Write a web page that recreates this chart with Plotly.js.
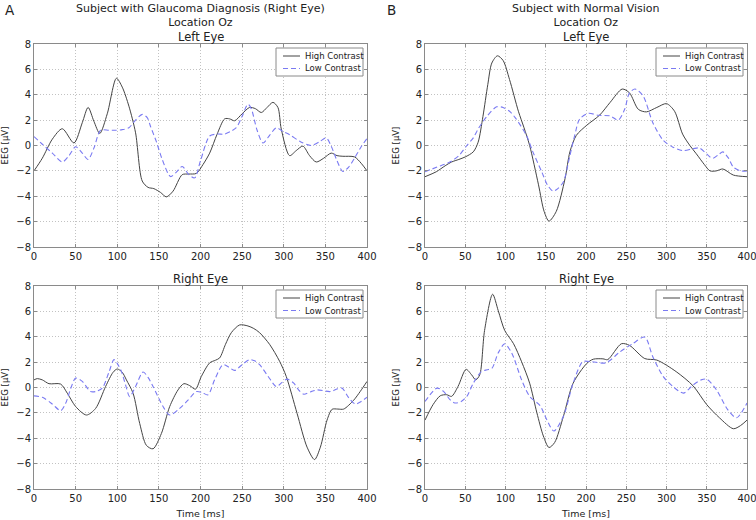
<!DOCTYPE html>
<html>
<head>
<meta charset="utf-8">
<script src="https://cdn.plot.ly/plotly-3.0.1.min.js"></script>
<style>html,body{margin:0;padding:0;background:#fff;}#chart{width:756px;height:520px;}</style>
</head>
<body>
<div id="chart"></div>
<script>
// ---------- Data ----------
// Panel A, Left Eye
const aLeftHighX = [0,10,22,34,48,58,65,72,79,88,99,106,114,122,130,137,144,152,159,167,178,186,195,203,211,220,229,235,241,250,259,266,273,280,287,293,297,307,315,323,331,339,348,357,364,371,385,393,400];
const aLeftHighY = [-2.0,-1.0,0.5,1.32,0.2,1.8,3.0,1.9,0.95,2.5,5.3,4.6,3.1,1.0,-2.8,-3.3,-3.4,-3.7,-4.05,-3.6,-2.3,-2.25,-2.2,-1.5,-0.6,0.9,2.1,2.1,1.95,2.5,3.0,2.9,2.6,3.0,3.4,3.0,1.3,-0.8,-0.4,-0.05,-0.8,-1.3,-1.0,-0.6,-0.8,-0.85,-0.9,-1.4,-2.0];
const aLeftLowX = [0,10,22,34,42,50,58,65,72,80,90,98,106,114,122,130,136,140,147,154,164,171,178,186,193,200,211,220,229,236,243,250,257,261,268,275,283,291,299,307,320,333,343,351,357,364,371,378,385,393,400];
const aLeftLowY = [0.7,0.1,-0.6,-1.3,-0.8,-0.1,-0.6,-1.1,-0.2,1.2,1.2,1.2,1.25,1.4,2.0,2.45,2.2,1.5,0.3,-1.1,-2.45,-2.1,-1.65,-2.3,-2.55,-1.2,0.75,0.9,0.9,1.1,1.4,2.3,3.25,2.9,1.2,0.2,0.8,1.4,1.1,0.85,0.3,0.0,0.3,0.6,-0.05,-1.2,-2.05,-1.7,-1.0,-0.1,0.55];

// Panel B, Left Eye
const bLeftHighX = [0,14,25,33,42,50,60,66,72,78,83,90,97,105,116,123,130,141,148,154,163,174,180,188,201,217,230,245,254,265,275,288,300,310,320,329,337,347,354,362,370,383,400];
const bLeftHighY = [-2.46,-2.07,-1.6,-1.3,-1.1,-0.9,-0.5,0.26,2.3,4.8,6.5,7.07,6.7,5.2,2.7,1.4,0.0,-3.1,-5.2,-5.96,-5.2,-2.6,-0.5,0.8,1.6,2.4,3.4,4.45,4.15,2.85,2.65,3.0,3.3,2.7,0.9,0.0,-0.65,-1.5,-2.0,-2.0,-1.85,-2.33,-2.46];
const bLeftLowX = [0,15,31,42,52,60,66,77,89,97,105,112,126,134,145,152,159,165,172,180,186,192,203,215,230,240,248,254,261,271,283,296,308,320,333,341,354,358,365,370,377,383,392,400];
const bLeftLowY = [-2.07,-1.7,-1.3,-0.8,0.0,0.6,1.3,2.3,3.05,3.0,2.7,2.2,0.8,-0.5,-2.07,-3.1,-3.6,-3.4,-2.85,-0.8,0.8,2.07,2.54,2.38,2.33,2.0,2.85,4.15,4.45,3.9,1.8,0.4,-0.13,-0.4,-0.25,-0.2,-0.9,-1.0,-0.7,-0.5,-1.0,-1.7,-2.0,-2.0];

// Panel A, Right Eye
const aRightHighX = [0,4,10,18,32,40,50,63,74,86,95,100,106,111,119,127,135,143,153,163,173,180,187,194,201,211,218,223,230,237,247,257,264,271,283,295,303,316,328,337,344,352,358,365,372,384,392,400];
const aRightHighY = [0.6,0.7,0.6,0.3,0.27,-0.45,-1.5,-2.17,-1.65,0.08,1.2,1.46,1.2,0.6,-0.45,-2.84,-4.56,-4.83,-3.63,-1.5,-0.19,0.3,0.15,-0.13,0.87,1.94,2.15,2.33,3.4,4.32,4.93,4.85,4.65,4.32,3.4,2.07,0.87,-2.04,-4.7,-5.68,-4.7,-2.57,-1.72,-1.7,-1.7,-1.0,-0.3,0.48];
const aRightLowX = [0,10,22,32,38,44,50,58,68,75,82,90,96,100,105,110,115,122,131,137,143,155,163,175,185,195,202,209,217,227,234,241,250,259,265,271,281,291,298,304,312,318,324,332,340,356,365,370,378,386,393,400];
const aRightLowY = [-0.66,-0.77,-1.3,-1.83,-1.25,-0.1,0.74,0.48,-0.32,-0.3,-0.05,1.2,2.2,1.9,1.27,0.2,-0.72,0.08,1.22,0.8,0.08,-1.5,-2.17,-1.65,-1.0,-0.32,-0.4,-0.58,0.61,1.8,1.6,1.35,1.8,2.2,2.1,1.8,0.9,0.08,0.4,0.66,0.34,-0.2,-0.53,-0.35,-0.19,-0.32,-0.1,-0.05,-0.8,-1.3,-1.1,-0.77];

// Panel B, Right Eye
const bRightHighX = [0,10,19,27,33,41,51,58,63,68,74,84,91,99,110,120,130,139,147,154,161,172,184,201,209,221,227,244,254,273,288,312,333,350,366,383,392,400];
const bRightHighY = [-2.57,-1.35,-0.65,-0.57,-0.7,0.08,1.43,0.99,0.6,1.0,4.5,7.35,6.05,4.5,3.45,2.03,0.34,-2.0,-3.82,-4.73,-4.34,-2.26,0.34,1.9,2.23,2.26,2.2,3.45,3.32,2.28,2.16,1.25,0.13,-1.35,-2.4,-3.25,-3.0,-2.57];
const bRightLowX = [0,15,23,31,37,45,52,60,70,77,83,91,99,108,120,130,143,151,160,172,184,196,207,225,242,258,273,283,296,308,321,333,343,350,362,376,387,400];
const bRightLowY = [-1.1,-0.05,-0.3,-0.96,-1.22,-1.1,-0.7,0.34,1.25,1.4,1.5,2.73,3.45,2.68,0.6,-0.7,-1.43,-2.5,-3.43,-2.26,0.34,2.03,2.03,1.95,2.8,3.45,3.97,2.42,0.86,0.08,-0.44,0.2,0.6,0.65,-0.18,-1.74,-2.39,-1.22];

const seriesNames = ["High Contrast", "Low Contrast"];
const xTicks = [0,50,100,150,200,250,300,350,400];
const yTicks = [-8,-6,-4,-2,0,2,4,6,8];

// ---------- Styling ----------
const FONT = "DejaVu Sans, Liberation Sans, sans-serif";
const HIGH_COLOR = "#444444", LOW_COLOR = "#7a7af2", FRAME = "#8a8a8a";
const LOW_DASH = "5px,3px";
const highLine = {color: HIGH_COLOR, width: 1, shape: "spline", smoothing: 0.8};
const lowLine = {color: LOW_COLOR, width: 1.1, dash: LOW_DASH, shape: "spline", smoothing: 0.8};

function mk(x, y, name, line, xa, ya) {
  return {x: x, y: y, name: name, mode: "lines", line: line, xaxis: xa, yaxis: ya, showlegend: false, hoverinfo: "skip"};
}

const traces = [
  mk(aLeftHighX, aLeftHighY, seriesNames[0], highLine, "x", "y"),
  mk(aLeftLowX, aLeftLowY, seriesNames[1], lowLine, "x", "y"),
  mk(bLeftHighX, bLeftHighY, seriesNames[0], highLine, "x2", "y2"),
  mk(bLeftLowX, bLeftLowY, seriesNames[1], lowLine, "x2", "y2"),
  mk(aRightHighX, aRightHighY, seriesNames[0], highLine, "x3", "y3"),
  mk(aRightLowX, aRightLowY, seriesNames[1], lowLine, "x3", "y3"),
  mk(bRightHighX, bRightHighY, seriesNames[0], highLine, "x4", "y4"),
  mk(bRightLowX, bRightLowY, seriesNames[1], lowLine, "x4", "y4")
];

const W = 756, H = 520;
const px = v => v / W, py = v => 1 - v / H;
const colPx = [[34, 367], [425, 747]];
const rowPx = [[44, 247], [286, 489]];
const colA = [px(34), px(367)], colB = [px(425), px(747)];
const rowTop = [py(247), py(44)], rowBot = [py(489), py(286)];

function xax(dom, anchor, title) {
  const a = {domain: dom, anchor: anchor, range: [0, 400], tickvals: xTicks, ticktext: xTicks.map(String),
    showline: true, mirror: "ticks", linecolor: FRAME, linewidth: 1,
    ticks: "inside", ticklen: 3, tickcolor: FRAME, ticklabeloverflow: "allow",
    showgrid: true, gridcolor: "#c2c2c2", griddash: "1px,2px", gridwidth: 1, zeroline: false,
    tickfont: {family: FONT, size: 10, color: "#222"}, fixedrange: true};
  if (title) a.title = {text: title, font: {family: FONT, size: 9.5, color: "#222"}, standoff: 7};
  return a;
}
function yax(dom, anchor) {
  return {domain: dom, anchor: anchor, range: [-8, 8], tickvals: yTicks,
    showline: true, mirror: "ticks", linecolor: FRAME, linewidth: 1,
    ticks: "inside", ticklen: 3, tickcolor: FRAME, ticklabeloverflow: "allow",
    showgrid: true, gridcolor: "#c2c2c2", griddash: "1px,2px", gridwidth: 1, zeroline: false,
    tickfont: {family: FONT, size: 10, color: "#222"}, fixedrange: true,
    title: {text: "EEG [μV]", font: {family: FONT, size: 8.5, color: "#222"}, standoff: 6}};
}

const ann = (text, x, y, size, xanchor, yanchor, yshift) => ({text: text, x: x, y: y, xref: "paper", yref: "paper",
  showarrow: false, xanchor: xanchor || "center", yanchor: yanchor || "bottom", yshift: yshift || 0,
  font: {family: FONT, size: size, color: "#222"}});

const annotations = [
  ann("Subject with Glaucoma Diagnosis (Right Eye)<br>Location Oz", (colA[0]+colA[1])/2, py(0), 11, "center", "top"),
  ann("Subject with Normal Vision<br>Location Oz", (colB[0]+colB[1])/2, py(0), 11, "center", "top"),
  ann("A", px(3), py(0), 13.5, "left", "top"),
  ann("B", px(385), py(0), 13.5, "left", "top"),
  ann("Left Eye", (colA[0]+colA[1])/2, py(44), 11.5, "center", "bottom", -2),
  ann("Left Eye", (colB[0]+colB[1])/2, py(44), 11.5, "center", "bottom", -2),
  ann("Right Eye", (colA[0]+colA[1])/2, py(286), 11.5, "center", "bottom", -2),
  ann("Right Eye", (colB[0]+colB[1])/2, py(286), 11.5, "center", "bottom", -2)
];
const shapes = [];

// legend boxes (one per panel, matplotlib style)
rowPx.forEach(r => colPx.forEach(c => {
  const right = c[1] - 4, left = right - 87, top = r[0] + 4, bottom = top + 28;
  shapes.push({type: "rect", xref: "paper", yref: "paper", x0: px(left), x1: px(right), y0: py(bottom), y1: py(top),
    line: {color: FRAME, width: 1}, fillcolor: "#fff", layer: "above"});
  const rows = [top + 8, top + 20.5];
  const styles = [{color: HIGH_COLOR, width: 1}, {color: LOW_COLOR, width: 1.1, dash: LOW_DASH}];
  rows.forEach((yy, i) => {
    shapes.push({type: "line", xref: "paper", yref: "paper", x0: px(left + 7), x1: px(left + 24), y0: py(yy), y1: py(yy),
      line: styles[i], layer: "above"});
    annotations.push(ann(seriesNames[i], px(left + 27), py(yy), 8.5, "left", "middle"));
  });
}));

const layout = {
  width: W, height: H, margin: {l: 0, r: 0, t: 0, b: 0},
  paper_bgcolor: "#fff", plot_bgcolor: "#fff",
  font: {family: FONT, color: "#222"}, showlegend: false,
  xaxis: xax(colA, "y"), yaxis: yax(rowTop, "x"),
  xaxis2: xax(colB, "y2"), yaxis2: yax(rowTop, "x2"),
  xaxis3: xax(colA, "y3", "Time [ms]"), yaxis3: yax(rowBot, "x3"),
  xaxis4: xax(colB, "y4", "Time [ms]"), yaxis4: yax(rowBot, "x4"),
  shapes: shapes,
  annotations: annotations
};

Plotly.newPlot("chart", traces, layout, {displayModeBar: false, staticPlot: true});
</script>
</body>
</html>
